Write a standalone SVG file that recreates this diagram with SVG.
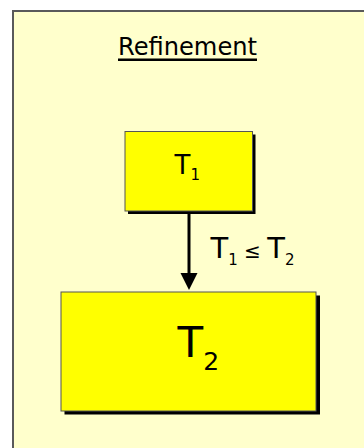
<svg xmlns="http://www.w3.org/2000/svg" width="364" height="448" viewBox="0 0 364 448">
<defs>
<style>
.t{font-family:"DejaVu Sans","Liberation Sans",sans-serif;fill:#000}
.box{fill:#FFFF00;stroke:#555;stroke-width:1}
.sh{fill:#000}
</style>
</defs>
<rect width="364" height="448" fill="#FFFFFF"/>
<rect x="13" y="11" width="362" height="450" fill="#FFFFCC" stroke="#5a5a5a" stroke-width="2"/>
<g id="title">
<text class="t" x="118" y="55" font-size="24" textLength="139" lengthAdjust="spacingAndGlyphs">Refinement</text>
<rect x="118" y="58.5" width="139" height="2.5" fill="#000"/>
</g>
<g id="connectors">
<line x1="189" y1="213" x2="189" y2="276" stroke="#000" stroke-width="3"/>
<polygon points="180.5,273 197.5,273 189,290" fill="#000"/>
<text id="label" class="t" x="210.5" y="258" font-size="29">T<tspan font-size="15" dy="7">1</tspan><tspan font-size="20" dy="-7"> ≤ </tspan>T<tspan font-size="15" dy="7">2</tspan></text>
</g>
<g id="T1">
<rect class="sh" x="128" y="134.5" width="127.5" height="79.5"/>
<rect class="box" x="125" y="131.5" width="127.5" height="79.5"/>
<text class="t" x="174.5" y="173.5" font-size="26">T<tspan font-size="15" dy="6.5">1</tspan></text>
</g>
<g id="T2">
<rect class="sh" x="64.5" y="295.5" width="255.5" height="119"/>
<rect class="box" x="61" y="292" width="255" height="119"/>
<text class="t" x="177.5" y="357" font-size="42">T<tspan font-size="25" dy="13">2</tspan></text>
</g>
</svg>
